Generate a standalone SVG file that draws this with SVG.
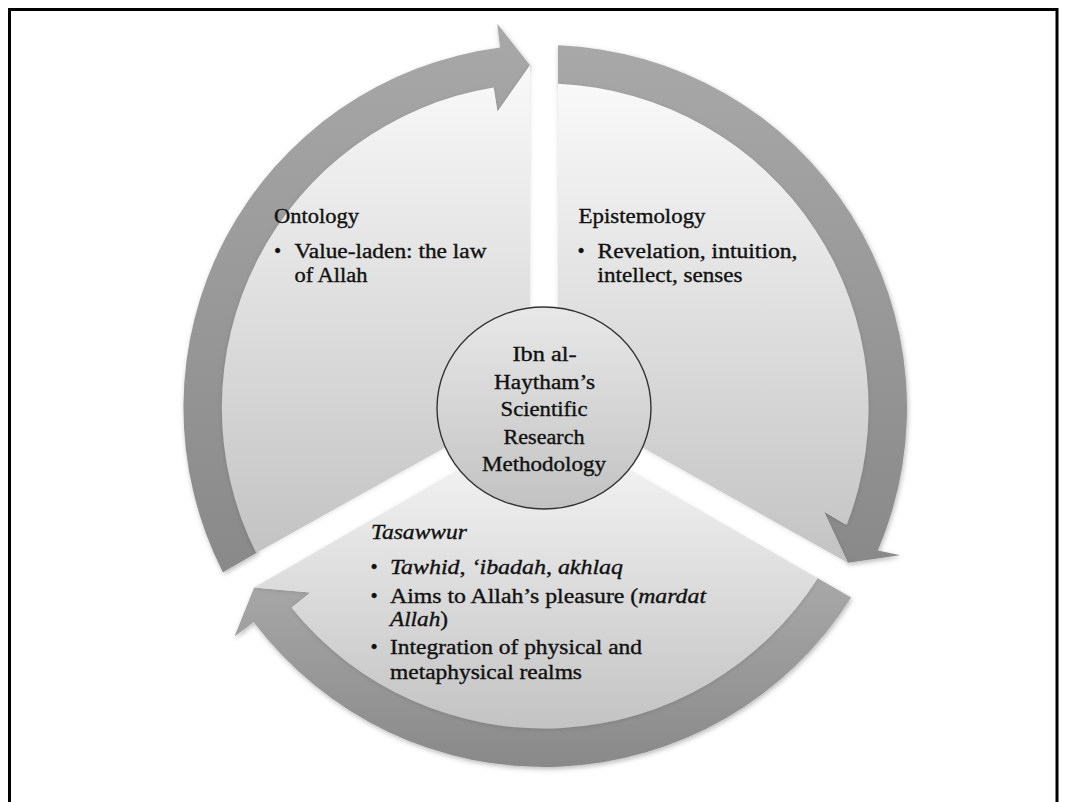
<svg xmlns="http://www.w3.org/2000/svg" width="1066" height="802" viewBox="0 0 1066 802">
  <defs>
    <linearGradient id="gSector" x1="0" y1="0" x2="0" y2="1">
      <stop offset="0" stop-color="#f9f9f9"/>
      <stop offset="1" stop-color="#c3c3c3"/>
    </linearGradient>
    <linearGradient id="gBand" x1="0" y1="0" x2="0" y2="1">
      <stop offset="0" stop-color="#a8a8a8"/>
      <stop offset="1" stop-color="#898989"/>
    </linearGradient>
    <linearGradient id="gHub" x1="0" y1="0" x2="0" y2="1">
      <stop offset="0" stop-color="#e8e8e8"/>
      <stop offset="1" stop-color="#c2c2c2"/>
    </linearGradient>
    <filter id="shadow" x="-10%" y="-10%" width="120%" height="120%">
      <feDropShadow dx="1" dy="2" stdDeviation="2.5" flood-color="#000" flood-opacity="0.28"/>
    </filter>
    <filter id="soft" x="-10%" y="-10%" width="120%" height="120%">
      <feDropShadow dx="0" dy="1" stdDeviation="2" flood-color="#000" flood-opacity="0.12"/>
    </filter>
  </defs>
  <style>
    .sector { fill: url(#gSector); filter: url(#soft); }
    .band { fill: url(#gBand); filter: url(#shadow); }
    .hub { fill: url(#gHub); stroke: #333; stroke-width: 1.4; }
    text { font-family: "Liberation Serif", "Times New Roman", serif; font-size: 20.5px; fill: #111; stroke: #111; stroke-width: 0.35; }
    .c { text-anchor: middle; }
    .i { font-style: italic; }
  </style>

  <rect width="1066" height="802" fill="#fff"/>
  <path d="M9.5,802 V9.5 H1057 V802" fill="none" stroke="#000" stroke-width="3"/>

  <g id="connectors">
    <path class="band" d="M222.9,572.2 A363 363 0 0 1 500.1,47.6 L497.2,23.8 L530,65.3 L497.4,111.7 L493.8,88.9 A323 323 0 0 0 257.5,552.2 Z"/>
    <path class="band" d="M558,45.3 A363 363 0 0 1 877.9,550.4 L900,555.3 L847.8,562.8 L823.9,511.5 L845.4,524.3 A323 323 0 0 0 558,85.3 Z"/>
    <path class="band" transform="translate(0,-4)" d="M851.1,601.5 A363 363 0 0 1 253.7,625.9 L234.5,640.4 L254.2,591.5 L310.5,596.4 L292.6,610.8 A323 323 0 0 0 816.5,581.5 Z"/>
  </g>

  <g id="node-ontology">
    <path class="sector" d="M530,399.9 L256.2,553 A324.5 324.5 0 0 1 493.6,87.5 L497.4,111.7 L530,65.3 Z"/>
    <text x="274" y="223" textLength="85" lengthAdjust="spacingAndGlyphs">Ontology</text>
    <text x="274" y="258">•</text>
    <text x="294.5" y="258" textLength="192" lengthAdjust="spacingAndGlyphs">Value-laden: the law</text>
    <text x="294.5" y="282" textLength="73" lengthAdjust="spacingAndGlyphs">of Allah</text>
  </g>

  <g id="node-epistemology">
    <path class="sector" d="M558,399.9 L558,83.8 A324.5 324.5 0 0 1 846.8,524.8 L823.9,511.5 L847.8,562.8 Z"/>
    <text x="578.5" y="223" textLength="127" lengthAdjust="spacingAndGlyphs">Epistemology</text>
    <text x="577.5" y="258">•</text>
    <text x="597.5" y="258" textLength="200" lengthAdjust="spacingAndGlyphs">Revelation, intuition,</text>
    <text x="597.5" y="282" textLength="145" lengthAdjust="spacingAndGlyphs">intellect, senses</text>
  </g>

  <g id="node-tasawwur">
    <path class="sector" transform="translate(0,-4)" d="M544,424.2 L817.8,582.2 A324.5 324.5 0 0 1 291.5,611.8 L310.5,596.4 L254.2,591.5 Z"/>
    <text class="i" x="371" y="539" textLength="96" lengthAdjust="spacingAndGlyphs">Tasawwur</text>
    <text x="370.5" y="574">•</text>
    <text x="390" y="574" textLength="233" lengthAdjust="spacingAndGlyphs"><tspan class="i">Tawhid</tspan>, <tspan class="i">‘ibadah</tspan>, <tspan class="i">akhlaq</tspan></text>
    <text x="370.5" y="603">•</text>
    <text x="390" y="603" textLength="316" lengthAdjust="spacingAndGlyphs">Aims to Allah’s pleasure (<tspan class="i">mardat</tspan></text>
    <text x="390" y="625.5" textLength="58" lengthAdjust="spacingAndGlyphs"><tspan class="i">Allah</tspan>)</text>
    <text x="370.5" y="654">•</text>
    <text x="390" y="654" textLength="252" lengthAdjust="spacingAndGlyphs">Integration of physical and</text>
    <text x="390" y="679" textLength="192" lengthAdjust="spacingAndGlyphs">metaphysical realms</text>
  </g>

  <g id="node-center">
    <ellipse class="hub" cx="544" cy="408" rx="107" ry="101"/>
    <text class="c" x="544.5" y="361" textLength="64" lengthAdjust="spacingAndGlyphs">Ibn al-</text>
    <text class="c" x="544.5" y="388.5" textLength="101" lengthAdjust="spacingAndGlyphs">Haytham’s</text>
    <text class="c" x="544" y="416" textLength="87" lengthAdjust="spacingAndGlyphs">Scientific</text>
    <text class="c" x="544" y="443.5" textLength="81" lengthAdjust="spacingAndGlyphs">Research</text>
    <text class="c" x="544" y="470.5" textLength="124" lengthAdjust="spacingAndGlyphs">Methodology</text>
  </g>
</svg>
